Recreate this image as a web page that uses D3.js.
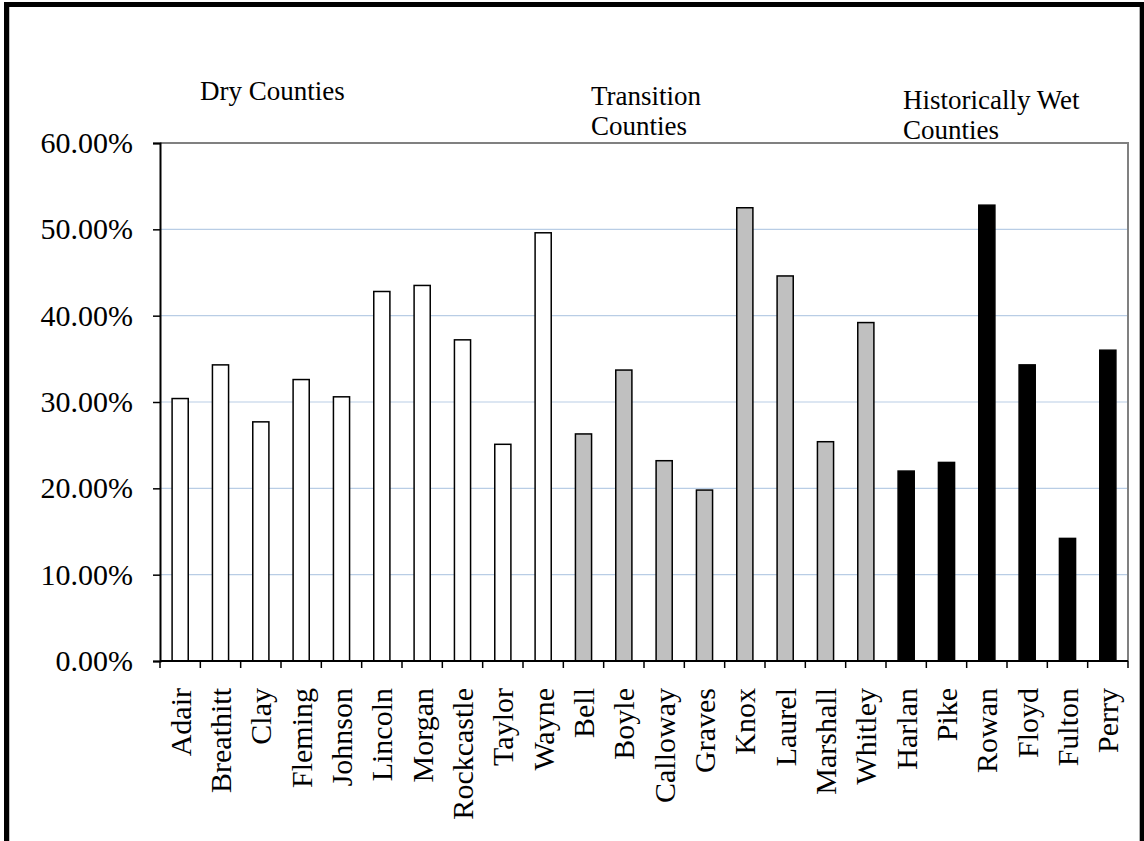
<!DOCTYPE html>
<html>
<head>
<meta charset="utf-8">
<script src="https://cdn.jsdelivr.net/npm/d3@7"></script>
<style>
  body { margin: 0; background: #fff; }
  svg { display: block; }
  text { font-family: "Liberation Serif", "Times New Roman", serif; fill: #000; }
</style>
</head>
<body>
<svg id="chart"></svg>
<script>
const dryCounties = ['Adair', 'Breathitt', 'Clay', 'Fleming', 'Johnson', 'Lincoln', 'Morgan', 'Rockcastle', 'Taylor', 'Wayne'];
const dryValues = [30.4, 34.3, 27.7, 32.6, 30.6, 42.8, 43.5, 37.2, 25.1, 49.6];
const transitionCounties = ['Bell', 'Boyle', 'Calloway', 'Graves', 'Knox', 'Laurel', 'Marshall', 'Whitley'];
const transitionValues = [26.3, 33.7, 23.2, 19.8, 52.5, 44.6, 25.4, 39.2];
const wetCounties = ['Harlan', 'Pike', 'Rowan', 'Floyd', 'Fulton', 'Perry'];
const wetValues = [22.0, 23.0, 52.8, 34.3, 14.2, 36.0];
const yTicks = [0, 10, 20, 30, 40, 50, 60];

const groups = [
  {name: 'dry', counties: dryCounties, values: dryValues, fill: '#ffffff'},
  {name: 'transition', counties: transitionCounties, values: transitionValues, fill: '#c0c0c0'},
  {name: 'wet', counties: wetCounties, values: wetValues, fill: '#000000'}
];
const rows = [];
groups.forEach(g => g.counties.forEach((c, i) => rows.push({county: c, value: g.values[i], fill: g.fill})));

const width = 1144, height = 841;
const margin = {left: 160, right: 16, top: 143, bottom: 180};
const svg = d3.select('#chart').attr('width', width).attr('height', height);

const x = d3.scaleBand()
  .domain(rows.map(d => d.county))
  .range([margin.left, width - margin.right])
  .paddingInner(0.6)
  .paddingOuter(0.3);
const xEdge = d3.scaleBand()
  .domain(rows.map(d => d.county))
  .range([margin.left, width - margin.right])
  .padding(0);
const y = d3.scaleLinear()
  .domain([0, 60])
  .range([height - margin.bottom, margin.top]);

const x0 = margin.left, x1 = width - margin.right;
const y0 = y(0), yTop = y(60);

// gridlines
svg.append('g')
  .selectAll('line')
  .data(yTicks.filter(t => t > 0 && t < 60))
  .enter().append('line')
  .attr('x1', x0).attr('x2', x1)
  .attr('y1', d => y(d)).attr('y2', d => y(d))
  .attr('stroke', '#b9cde5').attr('stroke-width', 1.2);

// plot frame (top, right)
svg.append('path')
  .attr('d', `M${x0},${yTop}H${x1}V${y0}`)
  .attr('fill', 'none').attr('stroke', '#808080').attr('stroke-width', 2);

// bars
svg.selectAll('.bar')
  .data(rows)
  .enter().append('rect')
  .attr('class', 'bar')
  .attr('x', d => x(d.county))
  .attr('width', x.bandwidth())
  .attr('y', d => y(d.value))
  .attr('height', d => y0 - y(d.value))
  .attr('fill', d => d.fill)
  .attr('stroke', '#000').attr('stroke-width', 1.5);

// y axis
const yAxis = svg.append('g')
  .attr('transform', `translate(${x0},0)`)
  .call(d3.axisLeft(y).tickValues(yTicks).tickSize(7).tickPadding(20)
    .tickFormat(d => d3.format('.2f')(d) + '%'));
yAxis.select('.domain').attr('stroke', '#000').attr('stroke-width', 2);
yAxis.selectAll('.tick line').attr('stroke', '#000').attr('stroke-width', 1.5);
yAxis.selectAll('.tick text')
  .style('font-family', '"Liberation Serif", "Times New Roman", serif')
  .style('font-size', '30px').attr('fill', '#000');

// x axis line and band-edge ticks
svg.append('line')
  .attr('x1', x0).attr('x2', x1).attr('y1', y0).attr('y2', y0)
  .attr('stroke', '#000').attr('stroke-width', 2);
const edges = rows.map(d => xEdge(d.county)).concat([x1]);
svg.append('g')
  .selectAll('line')
  .data(edges)
  .enter().append('line')
  .attr('x1', d => d).attr('x2', d => d)
  .attr('y1', y0).attr('y2', y0 + 7)
  .attr('stroke', '#000').attr('stroke-width', 1.5);

// x labels
svg.append('g')
  .selectAll('text')
  .data(rows)
  .enter().append('text')
  .attr('transform', d => `translate(${x(d.county) + x.bandwidth() / 2},${y0 + 27}) rotate(-90)`)
  .attr('text-anchor', 'end')
  .attr('dy', '0.35em')
  .style('font-size', '30px')
  .text(d => d.county);

// group annotations
const notes = [
  {lines: ['Dry Counties'], x: 200, y: 100},
  {lines: ['Transition', 'Counties'], x: 591, y: 105},
  {lines: ['Historically Wet', 'Counties'], x: 903, y: 109}
];
notes.forEach(n => {
  const t = svg.append('text').attr('x', n.x).attr('y', n.y).style('font-size', '27px');
  n.lines.forEach((l, i) => t.append('tspan').attr('x', n.x).attr('dy', i ? 30 : 0).text(l));
});

// outer frame
svg.append('line').attr('x1', 9.5).attr('x2', 9.5).attr('y1', 7).attr('y2', height).attr('stroke', '#c0c0c0');
svg.append('line').attr('x1', 1139.5).attr('x2', 1139.5).attr('y1', 7).attr('y2', height).attr('stroke', '#b0b0b0');
svg.append('path')
  .attr('d', `M6.5,${height}V4.5H1142.5V${height}`)
  .attr('fill', 'none').attr('stroke', '#000').attr('stroke-width', 5);
</script>
</body>
</html>
